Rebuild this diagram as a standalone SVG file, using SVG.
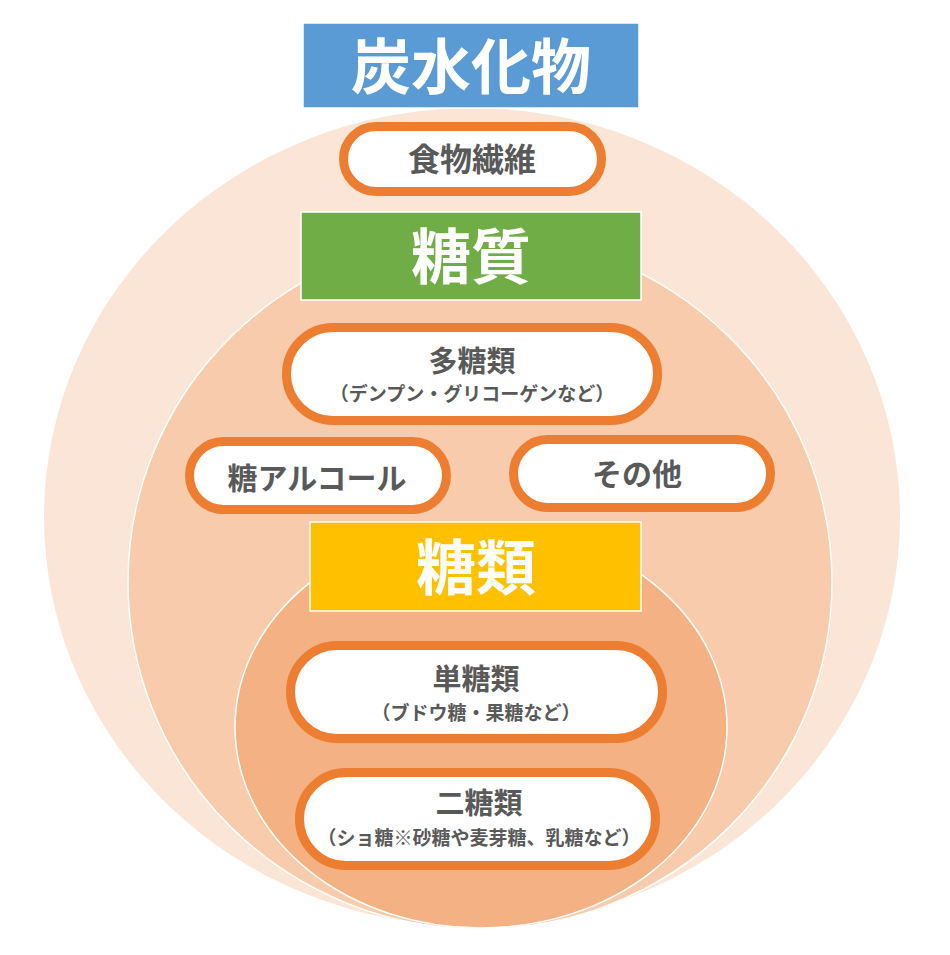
<svg xmlns="http://www.w3.org/2000/svg" width="950" height="955" viewBox="0 0 950 955">
<style>
.ring{stroke:#FFFFFF;stroke-width:1.5}
.pill{fill:#FFFFFF;stroke:#ED7D31;stroke-width:9}
.hdr{stroke:#FFFFFF;stroke-width:1.5}
.t{font-family:"Noto Sans CJK JP","Noto Sans CJK SC",sans-serif;font-weight:bold;text-anchor:middle;dominant-baseline:central}
.big{fill:#FFFFFF;font-size:60px}
.lbl{fill:#595959;font-size:29px}
.sub{fill:#595959;font-size:19px}
</style>
<rect x="0" y="0" width="950" height="955" fill="#FFFFFF"/>
<g id="circles">
<ellipse id="outer" cx="472" cy="517" rx="428" ry="409" fill="#FBE5D6"/>
<ellipse id="middle" class="ring" cx="480" cy="582" rx="352" ry="347" fill="#F8CBAD"/>
<ellipse id="inner" class="ring" cx="481" cy="727" rx="246" ry="201" fill="#F4B183"/>
</g>
<g id="connectors"></g>
<g id="carb-title">
<rect class="hdr" x="303" y="23" width="336" height="85" fill="#5B9BD5"/>
<text class="t big" x="471" y="62">炭水化物</text>
</g>
<g id="fiber">
<rect class="pill" x="343.5" y="126.5" width="258" height="65" rx="32.5"/>
<text class="t lbl" x="472" y="157" style="font-size:32px">食物繊維</text>
</g>
<g id="sugar-title">
<rect class="hdr" x="301" y="212" width="340" height="88" fill="#70AD47"/>
<text class="t big" x="471" y="252">糖質</text>
</g>
<g id="polysaccharide">
<rect class="pill" x="286.5" y="327.5" width="371" height="93" rx="46.5"/>
<text class="t lbl" x="472" y="359">多糖類</text>
<text class="t sub" x="472" y="392">（デンプン・グリコーゲンなど）</text>
</g>
<g id="sugar-alcohol">
<rect class="pill" x="189.5" y="441.5" width="257" height="68" rx="34"/>
<text class="t lbl" x="317" y="476" style="font-size:30px">糖アルコール</text>
</g>
<g id="others">
<rect class="pill" x="513.5" y="439.5" width="257" height="68" rx="34"/>
<text class="t lbl" x="637" y="472" style="font-size:30px">その他</text>
</g>
<g id="saccharide-title">
<rect class="hdr" x="310" y="522" width="331" height="89" fill="#FFC000"/>
<text class="t big" x="476" y="563">糖類</text>
</g>
<g id="monosaccharide">
<rect class="pill" x="290.5" y="645.5" width="372" height="93" rx="46.5"/>
<text class="t lbl" x="476" y="677">単糖類</text>
<text class="t sub" x="476" y="711">（ブドウ糖・果糖など）</text>
</g>
<g id="disaccharide">
<rect class="pill" x="299.5" y="772.5" width="356" height="93" rx="46.5"/>
<text class="t lbl" x="479" y="801">二糖類</text>
<text class="t sub" x="479" y="836">（ショ糖※砂糖や麦芽糖、乳糖など）</text>
</g>
</svg>
